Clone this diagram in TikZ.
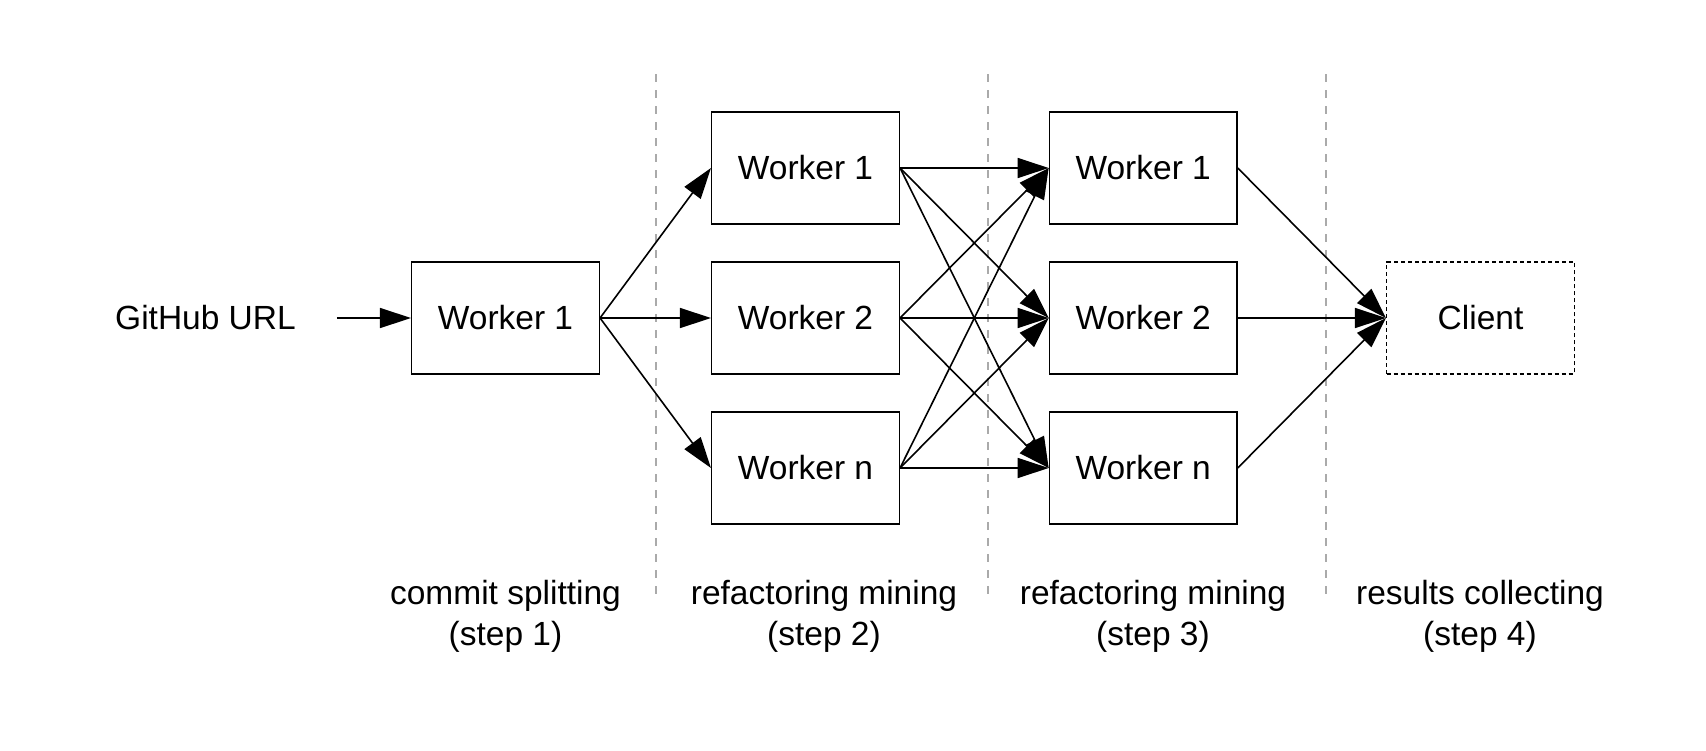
\documentclass[tikz,border=0pt]{standalone}
\usepackage{fontspec}
\setmainfont{Liberation Sans}
\usetikzlibrary{arrows.meta}
\definecolor{sepgray}{RGB}{170,170,170}
\begin{document}
\begin{tikzpicture}[x=1pt,y=-1pt,
  wbox/.style={draw=black, line width=1.5pt, rectangle, minimum width=187.6pt, minimum height=111.7pt, inner sep=0pt, font=\fontsize{33.5}{40}\selectfont},
  cbox/.style={wbox, dash pattern=on 4pt off 3pt},
  lbl/.style={font=\fontsize{33.5}{41}\selectfont, align=center, inner sep=0pt},
  conn/.style={line width=1.6pt, -{Triangle[length=31pt,width=20pt]}},
  sepline/.style={draw=sepgray, line width=2pt, dash pattern=on 8pt off 8pt}]
\useasboundingbox (0,0) rectangle (1706,750);

% separators
\coordinate (d1t) at (656,74);   \coordinate (d1b) at (656,600);
\coordinate (d2t) at (988,74);   \coordinate (d2b) at (988,600);
\coordinate (d3t) at (1326,74);  \coordinate (d3b) at (1326,600);
\draw[sepline] (d1t) -- (d1b);
\draw[sepline] (d2t) -- (d2b);
\draw[sepline] (d3t) -- (d3b);

% nodes
\node[lbl, inner xsep=41pt] (url) at (205.5,318) {GitHub URL};
\node[wbox] (s1) at (505.5,318) {Worker 1};
\node[wbox] (a1) at (805.5,168) {Worker 1};
\node[wbox] (a2) at (805.5,318) {Worker 2};
\node[wbox] (an) at (805.5,468) {Worker n};
\node[wbox] (b1) at (1143.2,168) {Worker 1};
\node[wbox] (b2) at (1143.2,318) {Worker 2};
\node[wbox] (bn) at (1143.2,468) {Worker n};
\node[cbox] (cl) at (1480.5,318) {Client};

% labels (base = baseline of last line)
\node[lbl, anchor=base] (l1) at (505.5,645.5) {commit splitting\\(step 1)};
\node[lbl, anchor=base] (l2) at (824,645.5) {refactoring mining\\(step 2)};
\node[lbl, anchor=base] (l3) at (1153,645.5) {refactoring mining\\(step 3)};
\node[lbl, anchor=base] (l4) at (1480,645.5) {results collecting\\(step 4)};

% connectors
\draw[conn] (url.east) -- (s1.west);
\foreach \t in {a1,a2,an} {\draw[conn] (s1.east) -- (\t.west);}
\foreach \s in {a1,a2,an} {\foreach \t in {b1,b2,bn} {\draw[conn] (\s.east) -- (\t.west);}}
\foreach \s in {b1,b2,bn} {\draw[conn] (\s.east) -- (cl.west);}
\end{tikzpicture}
\end{document}
